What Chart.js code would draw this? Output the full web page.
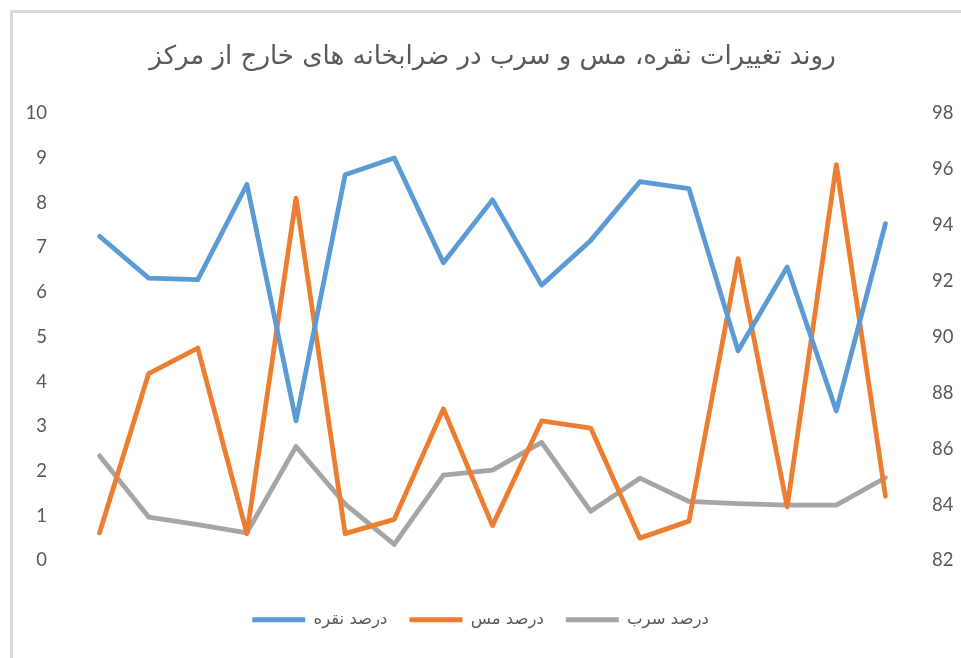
<!DOCTYPE html>
<html>
<head>
<meta charset="utf-8">
<script src="https://cdn.jsdelivr.net/npm/chart.js@4.4.1/dist/chart.umd.min.js"></script>
<style>
  html, body { margin: 0; padding: 0; background: #fff; }
  #wrap { position: relative; width: 961px; height: 658px; overflow: hidden; }
  #frame { position: absolute; left: 10px; top: 10px; width: 960px; height: 660px;
           border-top: 3px solid #d9d9d9; border-left: 3px solid #d9d9d9; }
  canvas { position: absolute; left: 0; top: 0; }
</style>
</head>
<body>
<div id="wrap">
  <div id="frame"></div>
  <canvas id="chart" width="961" height="658"></canvas>
</div>
<script>
// ================= DATA =================
const mints = ['1', '2', '3', '4', '5', '6', '7', '8', '9', '10', '11', '12', '13', '14', '15', '16', '17'];

const silver = [93.6, 92.1, 92.05, 95.45, 87.0, 95.8, 96.4, 92.65, 94.9, 91.85, 93.45, 95.55, 95.3, 89.5, 92.5, 87.35, 94.05];
const copper = [0.62, 4.18, 4.75, 0.6, 8.1, 0.6, 0.92, 3.39, 0.78, 3.12, 2.96, 0.5, 0.88, 6.75, 1.2, 8.85, 1.44];
const lead = [2.34, 0.97, 0.8, 0.62, 2.55, 1.26, 0.36, 1.91, 2.02, 2.64, 1.1, 1.84, 1.32, 1.27, 1.24, 1.24, 1.85];

const leftTicks = [0, 10, 1];   // min, max, step
const rightTicks = [82, 98, 2];

const seriesNames = ['درصد نقره', 'درصد مس', 'درصد سرب'];
const title = 'روند تغییرات نقره، مس و سرب در ضرابخانه های خارج از مرکز';

// ================= CHART =================
const grey = '#595959';
const font = 'Lato, "DejaVu Sans", sans-serif';

function line(label, data, color, axis) {
    return {
        label: label,
        data: data,
        yAxisID: axis,
        borderColor: color,
        backgroundColor: color,
        borderWidth: 4.8,
        borderCapStyle: 'round',
        borderJoinStyle: 'round',
        pointRadius: 0,
        pointStyle: 'line',
        tension: 0
    };
}

new Chart(document.getElementById('chart'), {
    type: 'line',
    data: {
        labels: mints,
        datasets: [
            line(seriesNames[0], silver, '#5b9bd5', 'y1'),
            line(seriesNames[1], copper, '#ed7d31', 'y'),
            line(seriesNames[2], lead, '#a5a5a5', 'y')
        ]
    },
    options: {
        responsive: false,
        animation: false,
        layout: { padding: { left: 0, right: 0, top: 0, bottom: 20 } },
        plugins: {
            tooltip: { enabled: false },
            title: {
                display: true,
                fullSize: false,
                text: title,
                color: grey,
                font: { family: '"DejaVu Sans", sans-serif', size: 26, weight: 'normal' },
                padding: { top: 42, bottom: 40 }
            },
            legend: {
                position: 'bottom',
                labels: {
                    color: grey,
                    font: { family: '"DejaVu Sans", sans-serif', size: 16.5 },
                    usePointStyle: true,
                    pointStyleWidth: 53,
                    padding: 22
                }
            }
        },
        scales: {
            x: {
                offset: true,
                grid: { display: false },
                border: { display: false },
                ticks: { display: false },
                afterFit: s => { s.height = 29; }
            },
            y: {
                position: 'left',
                min: leftTicks[0],
                max: leftTicks[1],
                grid: { display: false },
                border: { display: false },
                ticks: { stepSize: leftTicks[2], color: grey, padding: 20, font: { family: font, size: 18.5 } },
                afterFit: s => { s.width = 75; }
            },
            y1: {
                position: 'right',
                min: rightTicks[0],
                max: rightTicks[1],
                grid: { display: false },
                border: { display: false },
                ticks: { stepSize: rightTicks[2], color: grey, padding: 14, font: { family: font, size: 18.5 } },
                afterFit: s => { s.width = 51; }
            }
        }
    }
});
</script>
</body>
</html>
